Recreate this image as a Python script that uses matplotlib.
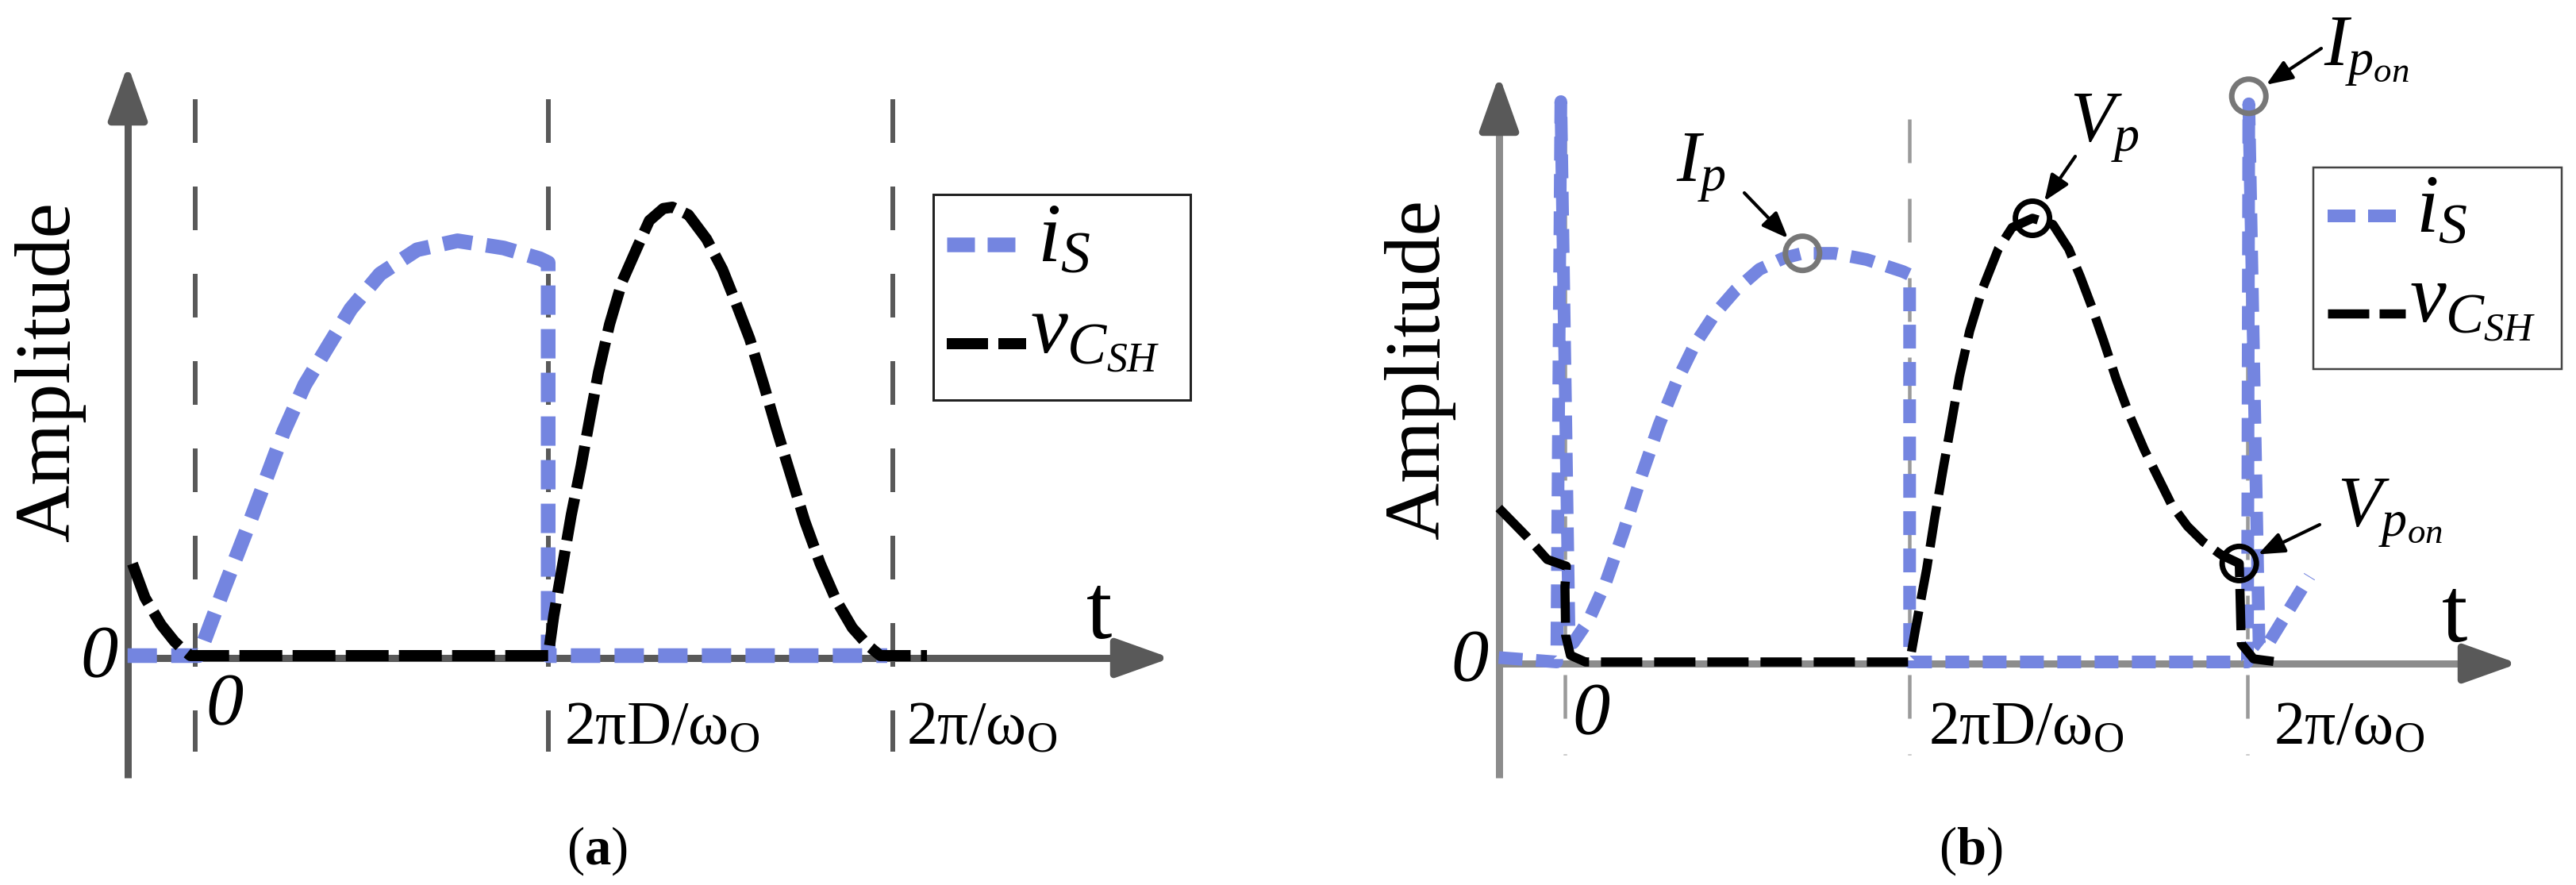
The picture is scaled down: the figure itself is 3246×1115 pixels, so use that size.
import matplotlib
matplotlib.use('Agg')
import matplotlib.pyplot as plt
from matplotlib.patches import Rectangle

plt.rcParams['font.family'] = ['Liberation Serif', 'DejaVu Serif']
plt.rcParams['mathtext.fontset'] = 'custom'
plt.rcParams['mathtext.rm'] = 'Liberation Serif'
plt.rcParams['mathtext.it'] = 'Liberation Serif:italic'
plt.rcParams['mathtext.bf'] = 'Liberation Serif:bold'

# t in switching periods (0 = turn-on, 1 = 2pi/w0), amplitude normalised to the v_CSH peak

# (a)
a_ticks = [0.0, 0.506, 1.0]
a_is_t = [-0.097, 0.005, 0.040, 0.080, 0.127, 0.157, 0.190, 0.223, 0.265, 0.318, 0.376, 0.442,
          0.494, 0.506, 0.506, 0.992]
a_is_y = [0.0, 0.0, 0.145, 0.305, 0.500, 0.604, 0.689, 0.773, 0.851, 0.905, 0.925, 0.909,
          0.885, 0.876, 0.0, 0.0]
a_v_t = [-0.090, -0.072, -0.049, -0.030, -0.018, -0.007, 0.506, 0.514, 0.527, 0.539, 0.553, 0.565,
         0.578, 0.594, 0.612, 0.635, 0.651, 0.671, 0.684, 0.707, 0.733, 0.756, 0.775, 0.795, 0.815,
         0.834, 0.854, 0.874, 0.896, 0.919, 0.942, 0.965, 0.982, 1.049]
a_v_y = [0.205, 0.129, 0.069, 0.032, 0.014, 0.0, 0.0, 0.089, 0.205, 0.313, 0.421, 0.523,
         0.631, 0.739, 0.834, 0.915, 0.970, 0.997, 1.0, 0.983, 0.929, 0.861, 0.787, 0.706, 0.604,
         0.502, 0.401, 0.299, 0.205, 0.123, 0.062, 0.022, 0.0, 0.0]

# (b)
b_ticks = [0.0, 0.505, 1.0]
b_is_t = [-0.097, -0.012, -0.006, 0.006, 0.012, 0.035, 0.060, 0.085, 0.110, 0.138, 0.163, 0.190,
          0.220, 0.250, 0.285, 0.320, 0.348, 0.395, 0.442, 0.495, 0.505, 0.505, 1.000, 1.002,
          1.017, 1.026, 1.091]
b_is_y = [0.010, 0.0, 1.263, 0.060, 0.043, 0.095, 0.180, 0.290, 0.410, 0.535, 0.630, 0.715,
          0.785, 0.838, 0.885, 0.910, 0.921, 0.921, 0.907, 0.880, 0.873, 0.0, 0.0, 1.258,
          0.041, 0.030, 0.193]
b_v_t = [-0.097, -0.055, -0.026, 0.002, 0.000, 0.001, 0.008, 0.030, 0.505, 0.515, 0.530, 0.542,
         0.555, 0.567, 0.578, 0.593, 0.612, 0.635, 0.655, 0.685, 0.715, 0.738, 0.755, 0.772, 0.789,
         0.808, 0.828, 0.849, 0.869, 0.889, 0.912, 0.935, 0.962, 0.988, 0.991, 1.009, 1.044]
b_v_y = [0.347, 0.281, 0.231, 0.216, 0.170, 0.060, 0.015, 0.0, 0.0, 0.086, 0.210, 0.327,
         0.443, 0.546, 0.643, 0.746, 0.842, 0.931, 0.979, 1.0, 0.986, 0.931, 0.869, 0.800, 0.725,
         0.636, 0.553, 0.478, 0.416, 0.354, 0.306, 0.271, 0.241, 0.222, 0.041, 0.007, 0.0]
b_mark_t = [0.348, 0.685, 1.002, 0.988]
b_mark_y = [0.921, 1.0, 1.275, 0.222]
b_mark_lbl = [r'$I_p$', r'$V_p$', r'$I_{p_{on}}$', r'$V_{p_{on}}$']

tick_lbl = ['0', r'$\mathrm{2πD/ω_O}$', r'$\mathrm{2π/ω_O}$']
ser_lbl = [r'$i_S$', r'$v_{C_{SH}}$']

BLUE = '#7485e0'
W, H = 3246, 1115
PT = 0.72  # points per pixel (dpi 100)

fig = plt.figure(figsize=(W / 100, H / 100), dpi=100)


def make_panel(x0, x1, t0, tu, z0, yu):
    ax = fig.add_axes([x0 / W, 0, (x1 - x0) / W, 1])
    ax.set_xlim((x0 - t0) / tu, (x1 - t0) / tu)
    ax.set_ylim((z0 - H) / yu, z0 / yu)
    ax.axis('off')

    def px(x, y):  # figure pixel (origin top-left) -> data
        return (x - t0) / tu, (z0 - y) / yu
    return ax, px


def dashed(lw, dash):
    return dict(lw=lw * PT, dashes=(dash[0] / lw, dash[1] / lw))


def draw_panel(ax, px, ticks, is_t, is_y, v_t, v_y, s):
    # dashed period markers
    top, bot = px(0, s['vl'][0])[1], px(0, s['vl'][1])[1]
    for t in ticks:
        ax.plot([t, t], [top, bot], color=s['grid'], zorder=1, **dashed(s['grid_lw'], (55, s['gap'])))
    # axes with arrow heads
    ax_x, ax_y, y_top, y_bot, x_tip = s['axes']
    for (x0, y0), (x1, y1), (xb, yb) in [((ax_x, y_bot), (ax_x, y_top), (ax_x, y_top + 70)),
                                          ((ax_x, ax_y), (x_tip, ax_y), (x_tip - 70, ax_y))]:
        p0, p1 = px(x0, y0), px(xb, yb)
        ax.plot([p0[0], p1[0]], [p0[1], p1[1]], color=s['axis'], lw=s['axis_lw'] * PT,
                solid_capstyle='butt', zorder=2)
        ax.annotate('', xy=px(x1, y1), xytext=px(xb, yb),
                    arrowprops=dict(arrowstyle='-|>,head_length=42,head_width=15', mutation_scale=1,
                                    lw=s['axis_lw'] * PT, color=s['head'], shrinkA=0, shrinkB=0),
                    zorder=2)
    # curves
    ax.plot(is_t, is_y, color=BLUE, zorder=3, **dashed(s['blue_lw'], s['blue_dash']))
    ax.plot(v_t, v_y, color='black', zorder=4, **dashed(s['black_lw'], s['black_dash']))
    # tick labels
    for t, lbl, (dx, y) in zip(ticks, tick_lbl, s['tick_pos']):
        tx = t + dx / s['tu']
        ty = px(0, y)[1]
        if lbl == '0':
            ax.text(tx, ty, lbl, fontsize=68, fontstyle='italic', ha='center', va='center')
        else:
            ax.text(tx, ty, lbl, fontsize=56, ha='left', va='baseline')
    ax.text(*px(*s['zero_y']), '0', fontsize=68, fontstyle='italic', ha='center', va='center')
    ax.text(*px(*s['t_lbl']), 't', fontsize=84, ha='left', va='baseline')
    ax.text(*px(*s['amp']), 'Amplitude', fontsize=72, rotation=90, ha='center', va='center')
    ax.text(*px(*s['cap'][0]), s['cap'][1], fontsize=48, ha='center', va='center')
    # legend
    (lx0, ly0, lx1, ly1) = s['leg_box']
    p0, p1 = px(lx0, ly1), px(lx1, ly0)
    ax.add_patch(Rectangle(p0, p1[0] - p0[0], p1[1] - p0[1], fill=False, ec=s['leg_ec'],
                           lw=s['leg_lw'] * PT, zorder=5))
    hx0, hx1 = s['leg_handle_x']
    for (col, lw, dsh), hy, (tx, ty), lbl in zip(
            [(BLUE, s['blue_lw'], (35, 16)), ('black', s['black_lw'], (52, 13))],
            s['leg_handle_y'], s['leg_text'], ser_lbl):
        a, b = px(hx0, hy), px(hx1, hy)
        ax.plot([a[0], b[0]], [a[1], b[1]], color=col, zorder=6, **dashed(lw, dsh))
        ax.text(*px(tx, ty), lbl, fontsize=s['leg_fs'], ha='left', va='baseline', zorder=6)


ax_a, px_a = make_panel(0, 1623, 246, 879, 826, 565)
draw_panel(ax_a, px_a, a_ticks, a_is_t, a_is_y, a_v_t, a_v_y, dict(
    tu=879, vl=(125, 947), grid='#595959', grid_lw=6, gap=55,
    axes=(161, 829, 82, 980, 1475), axis='#595959', head='#595959', axis_lw=9,
    blue_lw=18.5, black_lw=14, blue_dash=(37, 18), black_dash=(54, 13),
    tick_pos=[(37, 890), (20, 937), (17, 937)],
    zero_y=(125, 830), t_lbl=(1369, 804), amp=(63, 468), cap=((752, 1072), r'$(\mathbf{a})$'),
    leg_box=(1176, 245, 1500, 504), leg_ec='#222222', leg_lw=3,
    leg_handle_x=(1193, 1293), leg_handle_y=(308, 433), leg_text=[(1307, 330), (1298, 445)], leg_fs=76))

ax_b, px_b = make_panel(1623, 3246, 1972, 860, 834, 559)
draw_panel(ax_b, px_b, b_ticks, b_is_t, b_is_y, b_v_t, b_v_y, dict(
    tu=860, vl=(150, 951), grid='#9a9a9a', grid_lw=4.5, gap=45,
    axes=(1889, 836, 95, 980, 3173), axis='#8c8c8c', head='#595959', axis_lw=9,
    blue_lw=16, black_lw=11.5, blue_dash=(30, 17), black_dash=(52, 15),
    tick_pos=[(33, 902), (24, 937), (33, 937)],
    zero_y=(1852, 835), t_lbl=(3077, 808), amp=(1789, 465), cap=((2483, 1072), r'$(\mathbf{b})$'),
    leg_box=(2915, 211, 3228, 465), leg_ec='#444444', leg_lw=2.5,
    leg_handle_x=(2933, 3031), leg_handle_y=(272, 395), leg_text=[(3044, 292), (3036, 405)], leg_fs=74))

# peak markers and their labels on (b)
mark_col = ['#777777', 'black', '#777777', 'black']
arrow_from = [(2198, 243), (2615, 197), (2925, 61), (2923, 661)]
label_at = [(2112, 229), (2608, 179), (2928, 83), (2945, 664)]
ax_b.scatter(b_mark_t, b_mark_y, s=31 ** 2, facecolors='none', edgecolors=mark_col, linewidths=5, zorder=7)
for t, y, lbl, a0, l0 in zip(b_mark_t, b_mark_y, b_mark_lbl, arrow_from, label_at):
    ax_b.annotate('', xy=(t, y), xytext=px_b(*a0),
                  arrowprops=dict(arrowstyle='-|>,head_length=20,head_width=8', mutation_scale=1,
                                  lw=3, color='black', shrinkA=0, shrinkB=19), zorder=8)
    ax_b.text(*px_b(*l0), lbl, fontsize=66, ha='left', va='baseline', zorder=8)

fig.savefig('out.png', dpi=100)
